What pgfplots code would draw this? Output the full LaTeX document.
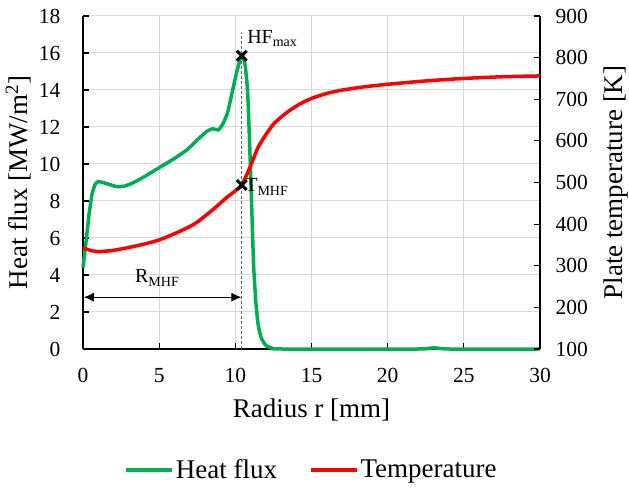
\documentclass[border=0pt]{standalone}
\usepackage{pgfplots}
\pgfplotsset{compat=1.18}
\usepackage{fontspec}
\setmainfont{Liberation Serif}
\usetikzlibrary{arrows.meta}
\definecolor{hfgreen}{RGB}{0,176,80}
\definecolor{tred}{RGB}{255,0,0}
\begin{document}
\begin{tikzpicture}
\pgfplotsset{
  common/.style={
    scale only axis, width=457pt, height=333pt,
    xmin=0, xmax=30,
    ticklabel style={font=\rmfamily\fontsize{21.5}{24}\selectfont},
    label style={font=\rmfamily\fontsize{27}{30}\selectfont},
    major tick length=6pt,
    tick align=inside,
    every tick/.style={black, line width=1.2pt},
    axis line style={black, line width=1.6pt},
  }
}
\begin{axis}[common,
  ymin=0, ymax=18,
  xtick={0,5,...,30}, ytick={0,2,...,18},
  xticklabels={0,5,10,15,20,25,30},
  yticklabels={0,2,4,6,8,10,12,14,16,18},
  axis x line*=bottom, axis y line*=left,
  yticklabel style={xshift=-19pt},
  xticklabel style={yshift=-16pt},
  grid=major, major grid style={draw=black!15, line width=1pt},
  clip=false,
  xlabel={Radius r [mm]},
  xlabel style={at={(axis description cs:0.5,-0.183)}, anchor=center},
  ylabel={Heat flux [MW/m\textsuperscript{2}]},
  ylabel style={at={(axis description cs:-0.142,0.5)}, anchor=center},
]
\addplot[hfgreen, line width=3.5pt, smooth, tension=0.3] coordinates {
(0,4.4) (0.2,5.8) (0.4,7.3) (0.6,8.4) (0.8,8.9) (1.0,9.05) (1.3,9.0) (1.7,8.9)
(2.2,8.78) (2.7,8.8) (3.2,8.95) (4.0,9.3) (5.0,9.8) (6.0,10.3) (6.8,10.75)
(7.5,11.3) (8.1,11.75) (8.5,11.9) (8.9,11.85) (9.2,12.2) (9.5,12.8) (9.8,13.9)
(10.1,15.0) (10.35,15.75) (10.5,15.8) (10.65,15.3) (10.8,14.0) (10.9,12.0)
(11.0,9.6) (11.1,7.0) (11.2,4.5) (11.35,2.5) (11.5,1.3) (11.7,0.6) (12.0,0.2)
(12.4,0.05) (13,0) (22,0) (23,0.07) (24,0) (30,0)
};
\draw[black!60, dash pattern=on 3pt off 2pt, line width=1.3pt] (axis cs:10.42,0) -- (axis cs:10.42,17.1);
\addplot[black, only marks, mark=x, mark size=7pt, mark options={line width=3pt}] coordinates {(10.42,15.85)};
\draw[{Latex[length=10pt,width=9pt]}-{Latex[length=10pt,width=9pt]}, line width=1pt] (axis cs:0.05,2.8) -- (axis cs:10.4,2.8);
\node[anchor=base west, inner sep=0pt, font=\fontsize{20}{24}\selectfont] at (axis cs:10.77,16.54) {HF\textsubscript{max}};
\node[anchor=base west, inner sep=0pt, font=\fontsize{20}{24}\selectfont] at (axis cs:10.64,8.49) {T\textsubscript{MHF}};
\node[anchor=base west, inner sep=0pt, font=\fontsize{20}{24}\selectfont] at (axis cs:3.41,3.57) {R\textsubscript{MHF}};
\end{axis}
\begin{axis}[common,
  ymin=100, ymax=900,
  ytick={100,200,...,900},
  yticklabels={100,200,300,400,500,600,700,800,900},
  yticklabel style={xshift=12pt},
  axis x line=none, axis y line*=right,
  clip=false,
  ylabel={Plate temperature [K]},
  ylabel style={at={(axis description cs:1.166,0.5)}, anchor=center},
  legend style={at={(0.5,-0.363)}, anchor=center, draw=none, fill=none,
    legend columns=2, font=\fontsize{27}{30}\selectfont,
    /tikz/every even column/.append style={column sep=30pt}},
  legend image code/.code={\draw[#1] (0pt,0pt) -- (46pt,0pt);},
]
\addlegendimage{hfgreen, line width=3.5pt}
\addlegendentry{Heat flux}
\addplot[tred, line width=3.5pt, smooth, tension=0.4] coordinates {
(0,343) (0.5,337) (1.0,334) (2,337) (3,344) (4,352) (5,362) (6,377) (7,394)
(7.5,405) (8,419) (8.5,434) (9,450) (9.5,466) (10,480) (10.42,494) (10.7,515)
(11.0,540) (11.5,585) (12.06,618) (12.5,640) (13,657) (13.6,674) (14.3,690)
(15,702) (16,714) (17,722) (18.5,730) (20,736) (22.5,744) (25,750) (27.5,754) (30,756)
};
\addlegendentry{Temperature}
\addplot[black, only marks, mark=x, mark size=7pt, mark options={line width=3pt}, forget plot] coordinates {(10.42,494)};
\end{axis}
\pgfresetboundingbox
\path (current axis.south west) ++(-83pt,-145pt) rectangle ++(629pt,494pt);
\end{tikzpicture}
\end{document}
